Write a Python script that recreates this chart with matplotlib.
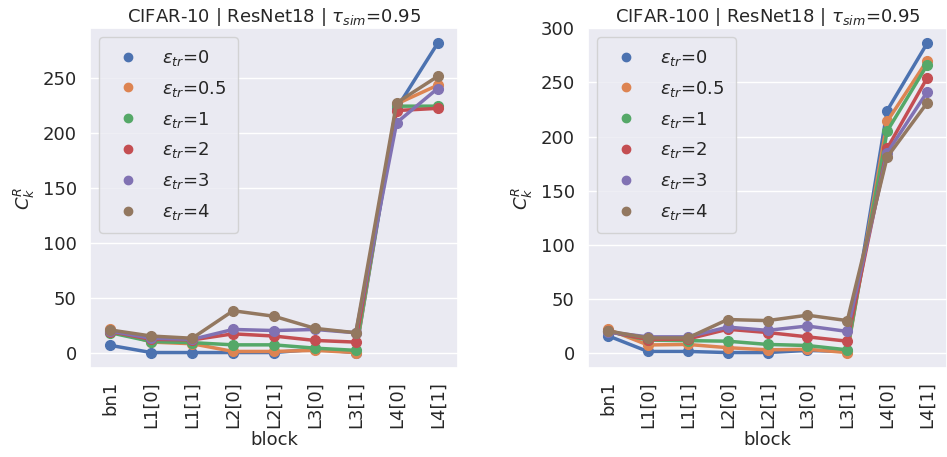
import numpy as np
import matplotlib
matplotlib.use("Agg")
import matplotlib.pyplot as plt
from matplotlib.lines import Line2D
import seaborn as sns

sns.set_theme(style="darkgrid")
plt.rcParams['font.family'] = ['DejaVu Sans']

blocks = ['bn1', 'L1[0]', 'L1[1]', 'L2[0]', 'L2[1]', 'L3[0]', 'L3[1]', 'L4[0]', 'L4[1]']
eps_labels = ['0', '0.5', '1', '2', '3', '4']

# CIFAR-10, una lista por eps_tr
c10_eps0 = [6.5, 0, 0, 0, 0, 3, 0, 222, 281]
c10_eps05 = [21, 9.5, 8, 1, 1, 2, 0, 226, 243]
c10_eps1 = [18, 10, 9, 7, 7, 4, 2, 224, 224]
c10_eps2 = [19, 12, 11.5, 17, 15, 11, 9.5, 220, 222]
c10_eps3 = [19.5, 13, 12, 21, 20, 21, 18, 209, 240]
c10_eps4 = [20.5, 15, 13, 38, 33, 22, 18, 227, 251]

# CIFAR-100
c100_eps0 = [16, 1.5, 1.5, 0.5, 0.5, 2.5, 1.5, 224, 286]
c100_eps05 = [22, 7.5, 8, 5, 3, 3.5, 0.5, 214, 270]
c100_eps1 = [20, 12, 11.5, 11, 8, 7, 3, 205, 266]
c100_eps2 = [20, 12.5, 13, 22, 19, 15, 11, 189, 254]
c100_eps3 = [19.5, 15, 15, 24, 21, 25, 20, 185, 241]
c100_eps4 = [20.5, 14, 14, 31, 30, 35, 30, 181, 231]

c10 = [c10_eps0, c10_eps05, c10_eps1, c10_eps2, c10_eps3, c10_eps4]
c100 = [c100_eps0, c100_eps05, c100_eps1, c100_eps2, c100_eps3, c100_eps4]

colores = sns.color_palette("deep", 6)

fig = plt.figure(figsize=(9.47, 4.57), dpi=100)
ax1 = fig.add_axes([90 / 947, 1 - 368 / 457, 368 / 947, 340 / 457])
ax2 = fig.add_axes([588 / 947, 1 - 368 / 457, 359 / 947, 340 / 457])


def dibuja(ax, series, titulo):
    x = np.arange(len(blocks))
    for serie, color in zip(series, colores):
        ax.plot(x, serie, color=color, lw=2.5, marker='o', ms=7)
    ax.set_xticks(x)
    ax.set_xticklabels(blocks, rotation=90, fontsize=13)
    ax.tick_params(axis='y', labelsize=13)
    ax.set_xlim(-0.5, len(blocks) - 0.5)
    ax.grid(False, axis='x')
    ax.set_xlabel('block', fontsize=13, labelpad=2)
    ax.set_ylabel('$C_k^R$', fontsize=13)
    ax.set_title(titulo, fontsize=13, pad=4)
    handles = [Line2D([], [], marker='o', ls='', color=c, ms=6) for c in colores]
    etiquetas = ['$\\epsilon_{tr}$=' + e for e in eps_labels]
    ax.legend(handles, etiquetas, loc='upper left', fontsize=13, handletextpad=0.9,
              borderpad=0.6, labelspacing=0.6)


dibuja(ax1, c10, 'CIFAR-10 | ResNet18 | $\\tau_{sim}$=0.95')
dibuja(ax2, c100, 'CIFAR-100 | ResNet18 | $\\tau_{sim}$=0.95')
ax2.set_yticks([0, 50, 100, 150, 200, 250, 300])

fig.savefig('out.png', dpi=100)
